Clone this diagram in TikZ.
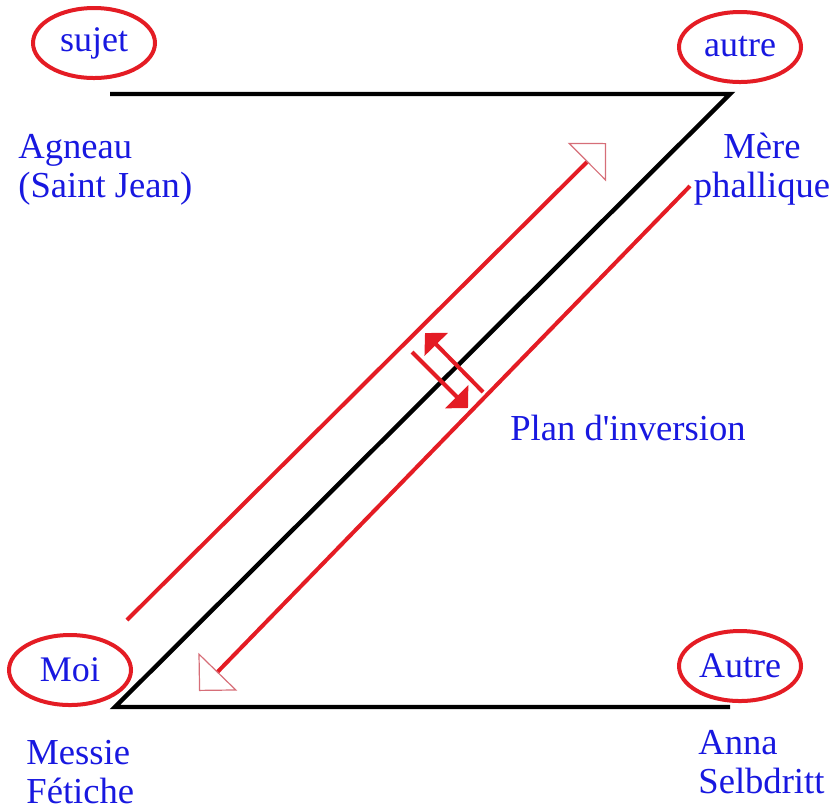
\documentclass[tikz,border=0pt]{standalone}
\usepackage{fontspec}
\setmainfont{Liberation Serif}
\usetikzlibrary{arrows.meta,shapes.geometric}
\definecolor{rouge}{RGB}{228,28,36}
\definecolor{rose}{RGB}{214,110,120}
\definecolor{bleu}{RGB}{24,24,224}

\begin{document}
\begin{tikzpicture}[x=0.5pt,y=-0.5pt,
  bulle/.style={ellipse,draw=rouge,line width=2pt,minimum width=61pt,minimum height=35pt,inner sep=0pt,text=bleu,font=\fontsize{18}{19}\selectfont},
  nom/.style={text=bleu,font=\fontsize{18.3}{19.5}\selectfont,inner sep=0pt},
  trait/.style={line width=2.2pt,black},
  fleche/.style={rouge,line width=2pt,-{Triangle[open,length=13.5pt,width=27pt,line width=0.6pt,color=rose]}},
  pointe/.style={rouge,line width=2pt,-{Triangle[length=8pt,width=16pt]}}]
\useasboundingbox (0,0) rectangle (834,811);
% coins du Z
\coordinate (hg) at (110,94);
\coordinate (hd) at (730,94);
\coordinate (bg) at (115,707);
\coordinate (bd) at (730,707);
\draw[trait] (hg) -- (hd) -- (bg) -- (bd);
% les quatre places
\node[bulle] (sujet) at (94,43) {sujet};
\node[bulle] (autre) at (740,47) {autre};
\node[bulle] (moi) at (70,670) {Moi};
\node[bulle] (Autre) at (740,666) {Autre};
% base = derniere ligne
\node[nom,anchor=base west,align=left] (agneau) at (18,197) {Agneau\\(Saint Jean)};
\node[nom,anchor=base,align=center] (mere) at (762,197) {Mère\\phallique};
\node[nom,anchor=base west,align=left] (messie) at (26,803) {Messie\\Fétiche};
\node[nom,anchor=base west,align=left] (anna) at (698,793) {Anna\\Selbdritt};
\node[nom,anchor=base] (plan) at (628,440) {Plan d\textquotesingle inversion};
% les deux trajets
\coordinate (m1) at (127,620);
\coordinate (m2) at (606,143);
\coordinate (d1) at (690,186);
\coordinate (d2) at (199,691);
\draw[fleche] (m1) -- (m2);
\draw[fleche] (d1) -- (d2);
% inversion
\coordinate (i1) at (483,392);
\coordinate (i2) at (425,333);
\coordinate (i3) at (412,352);
\coordinate (i4) at (468,408);
\draw[pointe] (i1) -- (i2);
\draw[pointe] (i3) -- (i4);
\end{tikzpicture}
\end{document}
